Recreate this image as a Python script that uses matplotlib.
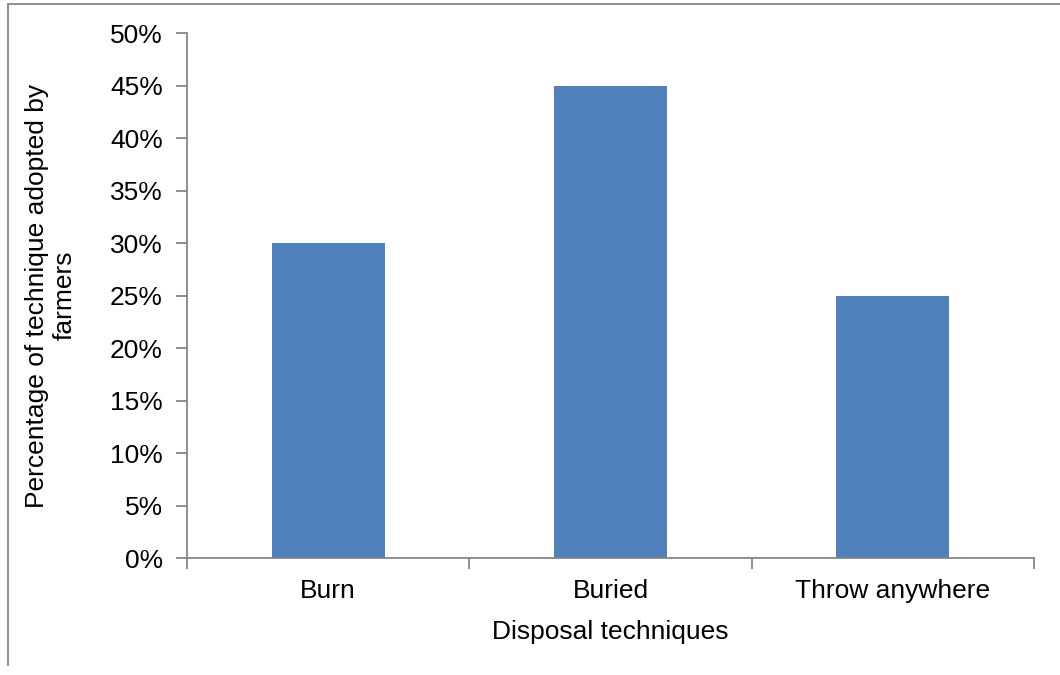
import matplotlib.pyplot as plt
from matplotlib.lines import Line2D
from matplotlib.ticker import PercentFormatter

categories = ['Burn', 'Buried', 'Throw anywhere']
percentages = [30, 45, 25]
y_ticks = [0, 5, 10, 15, 20, 25, 30, 35, 40, 45, 50]

plt.rcParams['font.family'] = ['Liberation Sans', 'DejaVu Sans']
axis_grey = '#868686'
fs = 19

fig = plt.figure(figsize=(10.6, 6.75), dpi=100)
ax = fig.add_axes([0.1764, 0.1733, 0.7991, 0.7778])

x = list(range(len(categories)))
ax.bar(x, percentages, width=0.4, color='#4F81BD')

ax.set_xlim(-0.5, len(categories) - 0.5)
ax.set_ylim(0, 50)
ax.set_yticks(y_ticks)
ax.yaxis.set_major_formatter(PercentFormatter(decimals=0))

# category labels centred, ticks on the boundaries between categories
ax.set_xticks(x)
ax.set_xticklabels(categories)
ax.tick_params(axis='x', which='major', length=0, labelsize=fs, pad=15)
ax.set_xticks([i - 0.5 for i in range(len(categories) + 1)], minor=True)
ax.tick_params(axis='x', which='minor', length=8, color=axis_grey, width=1.3)
ax.tick_params(axis='y', length=8, color=axis_grey, width=1.3, labelsize=fs, pad=9.5)

for side in ['top', 'right']:
    ax.spines[side].set_visible(False)
for side in ['left', 'bottom']:
    ax.spines[side].set_color(axis_grey)
    ax.spines[side].set_linewidth(1.3)

ax.set_xlabel('Disposal techniques', fontsize=fs, labelpad=12)
ax.set_ylabel('Percentage of technique adopted by\nfarmers', fontsize=fs, labelpad=24)

# outer chart frame (top and left edges visible)
fig.add_artist(Line2D([0.0075, 1.0], [0.994, 0.994], color=axis_grey, lw=1.3,
                      transform=fig.transFigure))
fig.add_artist(Line2D([0.0075, 0.0075], [0.015, 0.994], color=axis_grey, lw=1.3,
                      transform=fig.transFigure))

fig.savefig('out.png', dpi=100)
